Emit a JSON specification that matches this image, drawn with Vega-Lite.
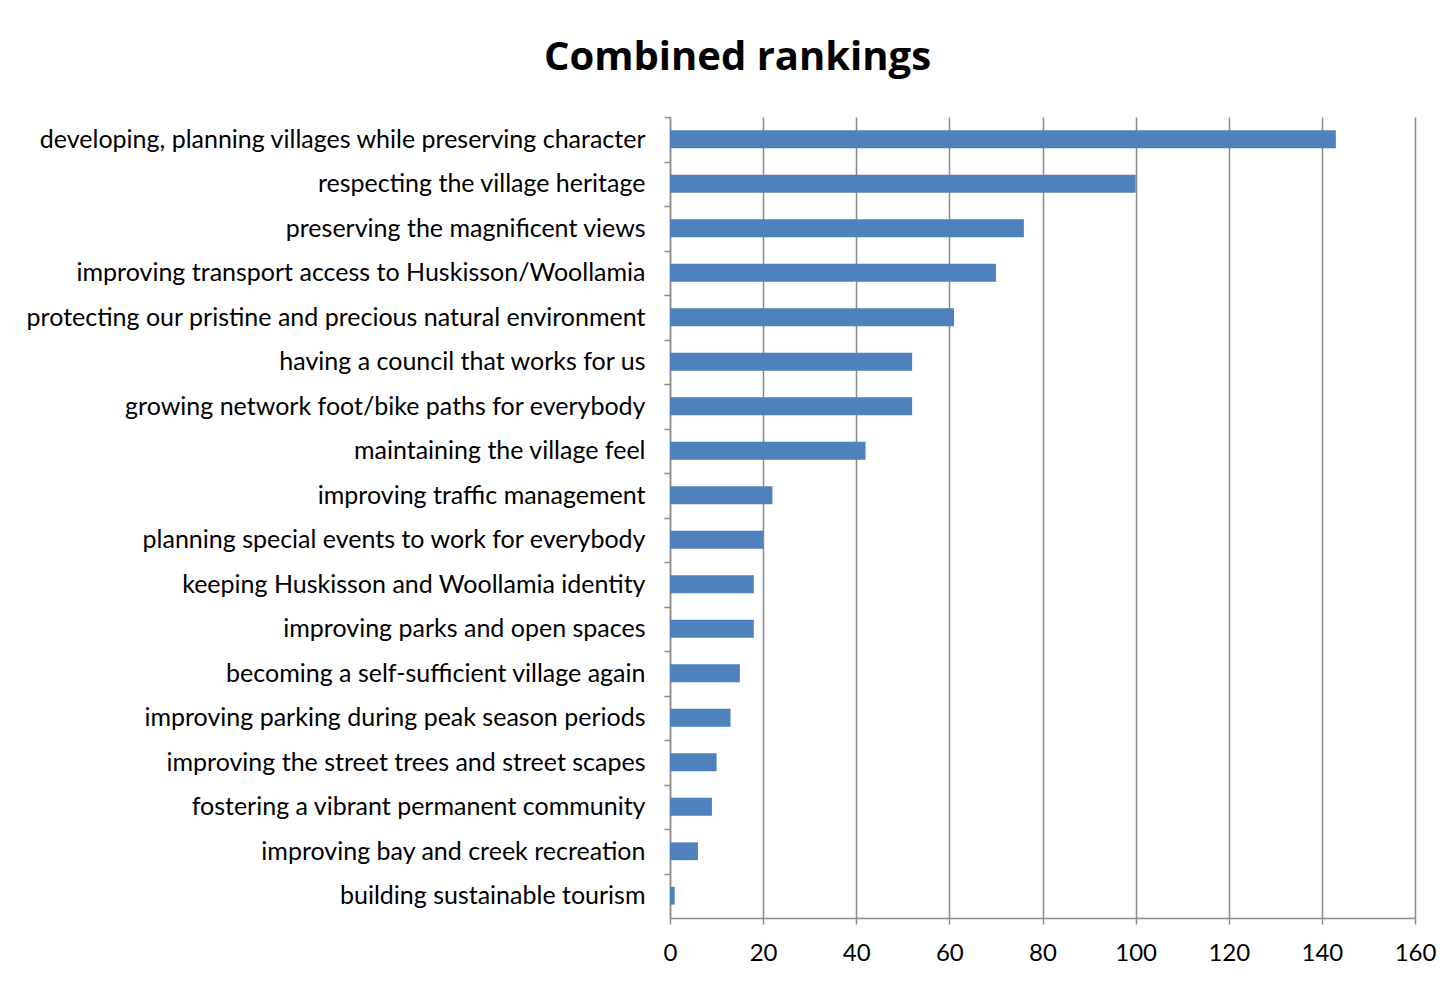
{
  "$schema": "https://vega.github.io/schema/vega-lite/v6.json",
  "width": 745,
  "height": 801,
  "autosize": "none",
  "padding": {"left": 670, "top": 117, "right": 31, "bottom": 63},
  "background": "white",
  "title": {
    "text": "Combined rankings",
    "anchor": "middle",
    "frame": "group",
    "dx": -305,
    "offset": 38,
    "font": "Open Sans",
    "fontSize": 40,
    "fontWeight": "bold",
    "color": "#000000"
  },
  "data": {
    "values": [
      {"item": "developing, planning villages while preserving character", "score": 143},
      {"item": "respecting the village heritage", "score": 100},
      {"item": "preserving the magnificent views", "score": 76},
      {"item": "improving transport access to Huskisson/Woollamia", "score": 70},
      {"item": "protecting our pristine and precious natural environment", "score": 61},
      {"item": "having a council that works for us", "score": 52},
      {"item": "growing network foot/bike paths for everybody", "score": 52},
      {"item": "maintaining the village feel", "score": 42},
      {"item": "improving traffic management", "score": 22},
      {"item": "planning special events to work for everybody", "score": 20},
      {"item": "keeping Huskisson and Woollamia identity", "score": 18},
      {"item": "improving parks and open spaces", "score": 18},
      {"item": "becoming a self-sufficient village again", "score": 15},
      {"item": "improving parking during peak season periods", "score": 13},
      {"item": "improving the street trees and street scapes", "score": 10},
      {"item": "fostering a vibrant permanent community", "score": 9},
      {"item": "improving bay and creek recreation", "score": 6},
      {"item": "building sustainable tourism", "score": 1}
    ]
  },
  "mark": {"type": "bar", "color": "#4f81bd"},
  "encoding": {
    "y": {
      "field": "item",
      "type": "nominal",
      "sort": null,
      "title": null,
      "scale": {"paddingInner": 0.6, "paddingOuter": 0.3},
      "axis": {
        "domainColor": "#8c8c8c",
        "domainWidth": 1.5,
        "tickColor": "#8c8c8c",
        "tickWidth": 1.5,
        "tickSize": 6,
        "tickOffset": -22.25,
        "labelOffset": 22.25,
        "labelFont": "Lato",
        "labelFontSize": 25,
        "labelColor": "#000000",
        "labelPadding": 19,
        "labelLimit": 700,
        "grid": false
      }
    },
    "x": {
      "field": "score",
      "type": "quantitative",
      "title": null,
      "scale": {"domain": [0, 160], "nice": false},
      "axis": {
        "values": [0, 20, 40, 60, 80, 100, 120, 140, 160],
        "grid": true,
        "gridColor": "#8c8c8c",
        "gridWidth": 1.5,
        "domainColor": "#8c8c8c",
        "domainWidth": 1.5,
        "tickColor": "#8c8c8c",
        "tickWidth": 1.5,
        "tickSize": 6,
        "labelFlush": false,
        "labelFont": "Lato",
        "labelFontSize": 24,
        "labelColor": "#000000",
        "labelPadding": 17
      }
    }
  },
  "config": {"view": {"stroke": null}}
}
